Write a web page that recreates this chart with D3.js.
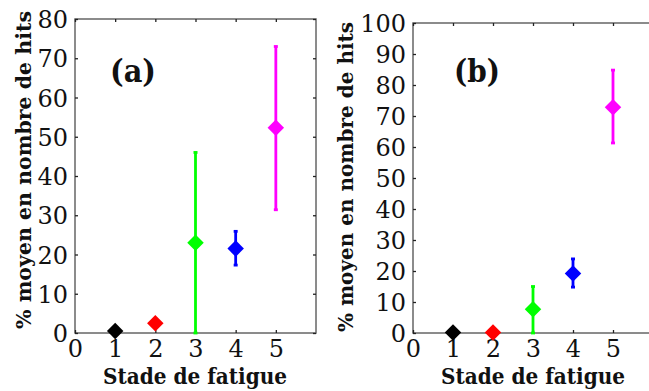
<!DOCTYPE html>
<html><head><meta charset="utf-8">
<script src="https://cdn.jsdelivr.net/npm/d3@7"></script>
<style>
html,body{margin:0;padding:0;background:#fff;}
svg{display:block;}
</style></head>
<body>
<svg id="c" width="649" height="391"></svg>
<script>
const stages = [1, 2, 3, 4, 5];
const colors = ["#000000", "#ff0000", "#00ff00", "#0000ff", "#ff00ff"];
const meanA = [0.5, 2.5, 23, 21.5, 52.3];
const lowA  = [0.5, 2.5, 0, 17.3, 31.4];
const highA = [0.5, 2.5, 46, 25.9, 73];
const meanB = [0.2, 0.2, 7.7, 19.2, 72.8];
const lowB  = [0.2, 0.2, 0, 14.8, 61.3];
const highB = [0.2, 0.2, 15, 23.9, 84.8];
const xTicks = [0, 1, 2, 3, 4, 5];
const yTicksA = [0, 10, 20, 30, 40, 50, 60, 70, 80];
const yTicksB = [0, 10, 20, 30, 40, 50, 60, 70, 80, 90, 100];

const svg = d3.select("#c");
const serif = "'DejaVu Serif', 'Liberation Serif', serif";

function panel(cfg) {
  const {left, right, top, bottom, ymax, yTicks, mean, low, high, tag, tagX, ylabX, ylabY, ylabLen, xlabW} = cfg;
  const x = d3.scaleLinear().domain([0, 6]).range([left, right]);
  const y = d3.scaleLinear().domain([0, ymax]).range([bottom, top]);
  const g = svg.append("g");

  g.append("rect").attr("x", left).attr("y", top).attr("width", right - left).attr("height", bottom - top)
    .attr("fill", "none").attr("stroke", "#666").attr("stroke-width", 1.5);

  const axB = g.append("g").attr("transform", `translate(0,${bottom})`)
    .call(d3.axisBottom(x).tickValues(xTicks).tickSizeInner(-3).tickSizeOuter(0).tickPadding(9).tickFormat(d3.format("d")));
  const axT = g.append("g").attr("transform", `translate(0,${top})`)
    .call(d3.axisTop(x).tickValues(xTicks).tickSizeInner(-3).tickSizeOuter(0).tickFormat(""));
  const axL = g.append("g").attr("transform", `translate(${left},0)`)
    .call(d3.axisLeft(y).tickValues(yTicks).tickSizeInner(-3).tickSizeOuter(0).tickPadding(7).tickFormat(d3.format("d")));
  const axR = g.append("g").attr("transform", `translate(${right},0)`)
    .call(d3.axisRight(y).tickValues(yTicks).tickSizeInner(-3).tickSizeOuter(0).tickFormat(""));
  [axB, axT, axL, axR].forEach(a => {
    a.select(".domain").remove();
    a.selectAll(".tick line").attr("stroke", "#222").attr("stroke-width", 1.3);
    a.selectAll("text").attr("font-family", serif).attr("font-size", 24).attr("fill", "#111");
  });
  axB.selectAll("text").attr("dy", "0.62em");
  axL.selectAll("text").attr("dy", "0.36em");

  const eb = g.append("g");
  stages.forEach((s, i) => {
    if (high[i] - low[i] > 0.5) {
      eb.append("line").attr("x1", x(s)).attr("x2", x(s)).attr("y1", y(low[i])).attr("y2", y(high[i]))
        .attr("stroke", colors[i]).attr("stroke-width", 2.8);
      [low[i], high[i]].forEach(v => {
        eb.append("line").attr("x1", x(s) - 2).attr("x2", x(s) + 2).attr("y1", y(v)).attr("y2", y(v))
          .attr("stroke", colors[i]).attr("stroke-width", 2.8);
      });
    }
  });
  const sym = d3.symbol().type(d3.symbolSquare).size(136);
  stages.forEach((s, i) => {
    eb.append("path").attr("d", sym())
      .attr("transform", `translate(${x(s)},${y(mean[i])}) rotate(45)`)
      .attr("fill", colors[i]);
  });

  g.append("text").attr("x", tagX).attr("y", 82).attr("text-anchor", "middle")
    .attr("font-family", serif).attr("font-weight", "bold").attr("font-size", 31).attr("fill", "#111")
    .attr("textLength", 46).attr("lengthAdjust", "spacingAndGlyphs").text(tag);

  g.append("text").attr("x", left + 120).attr("y", 384).attr("text-anchor", "middle")
    .attr("font-family", serif).attr("font-weight", "bold").attr("font-size", 22).attr("fill", "#111")
    .attr("textLength", xlabW).attr("lengthAdjust", "spacingAndGlyphs")
    .text("Stade de fatigue");
  g.append("text").attr("transform", `translate(${ylabX},${ylabY}) rotate(-90)`).attr("text-anchor", "middle")
    .attr("font-family", serif).attr("font-weight", "bold").attr("font-size", 20).attr("fill", "#111")
    .attr("textLength", ylabLen).attr("lengthAdjust", "spacingAndGlyphs")
    .text("% moyen en nombre de hits");
}

panel({left: 75, right: 316, top: 19, bottom: 333, ymax: 80, yTicks: yTicksA,
  mean: meanA, low: lowA, high: highA, tag: "(a)", tagX: 133, ylabX: 31, ylabY: 170, ylabLen: 318, xlabW: 184});
panel({left: 413, right: 653, top: 23, bottom: 333, ymax: 100, yTicks: yTicksB,
  mean: meanB, low: lowB, high: highB, tag: "(b)", tagX: 477, ylabX: 353, ylabY: 177, ylabLen: 310, xlabW: 184});
</script>
</body></html>
